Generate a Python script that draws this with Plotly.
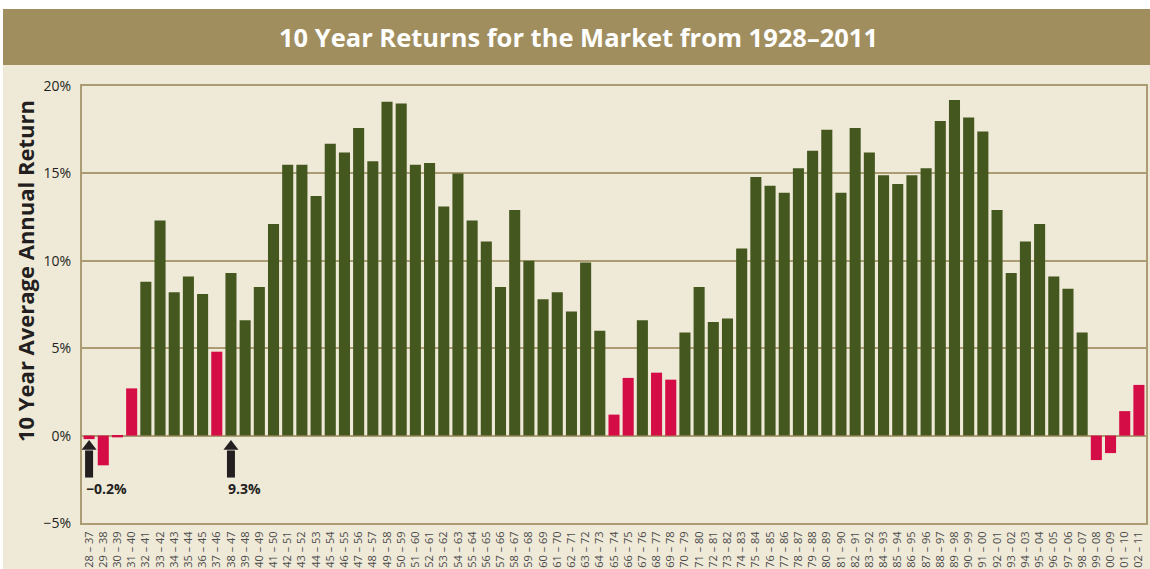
import plotly.graph_objects as go

periods = [
    "28 – 37", "29 – 38", "30 – 39", "31 – 40", "32 – 41", "33 – 42", "34 – 43", "35 – 44",
    "36 – 45", "37 – 46", "38 – 47", "39 – 48", "40 – 49", "41 – 50", "42 – 51", "43 – 52",
    "44 – 53", "45 – 54", "46 – 55", "47 – 56", "48 – 57", "49 – 58", "50 – 59", "51 – 60",
    "52 – 61", "53 – 62", "54 – 63", "55 – 64", "56 – 65", "57 – 66", "58 – 67", "59 – 68",
    "60 – 69", "61 – 70", "62 – 71", "63 – 72", "64 – 73", "65 – 74", "66 – 75", "67 – 76",
    "68 – 77", "69 – 78", "70 – 79", "71 – 80", "72 – 81", "73 – 82", "74 – 83", "75 – 84",
    "76 – 85", "77 – 86", "78 – 87", "79 – 88", "80 – 89", "81 – 90", "82 – 91", "83 – 92",
    "84 – 93", "85 – 94", "86 – 95", "87 – 96", "88 – 97", "89 – 98", "90 – 99", "91 – 00",
    "92 – 01", "93 – 02", "94 – 03", "95 – 04", "96 – 05", "97 – 06", "98 – 07", "99 – 08",
    "00 – 09", "01 – 10", "02 – 11",
]

returns = [
    -0.2, -1.7, -0.1, 2.7, 8.8, 12.3, 8.2, 9.1,
    8.1, 4.8, 9.3, 6.6, 8.5, 12.1, 15.5, 15.5,
    13.7, 16.7, 16.2, 17.6, 15.7, 19.1, 19.0, 15.5,
    15.6, 13.1, 15.0, 12.3, 11.1, 8.5, 12.9, 10.0,
    7.8, 8.2, 7.1, 9.9, 6.0, 1.2, 3.3, 6.6,
    3.6, 3.2, 5.9, 8.5, 6.5, 6.7, 10.7, 14.8,
    14.3, 13.9, 15.3, 16.3, 17.5, 13.9, 17.6, 16.2,
    14.9, 14.4, 14.9, 15.3, 18.0, 19.2, 18.2, 17.4,
    12.9, 9.3, 11.1, 12.1, 9.1, 8.4, 5.9, -1.4,
    -1.0, 1.4, 2.9,
]

highlighted = ["28 – 37", "38 – 47"]

y_tickvals = [-5, 0, 5, 10, 15, 20]
y_ticktext = ["−5%", "0%", "5%", "10%", "15%", "20%"]

title_text = "10 Year Returns for the Market from 1928–2011"
y_title = "10 Year Average Annual Return"

GREEN = "#44571F"
RED = "#D40D46"
BANNER = "#A08E5F"
CREAM = "#EFE9D8"
GRID = "#AC9C73"
DARK = "#231F20"

bar_colors = [RED if v < 5 else GREEN for v in returns]

fig = go.Figure()
fig.add_trace(go.Bar(
    x=periods, y=returns, marker=dict(color=bar_colors, line=dict(width=0)),
    hoverinfo="x+y", showlegend=False,
))

# arrow heads
fig.add_trace(go.Scatter(
    x=highlighted, y=[-0.62] * len(highlighted), mode="markers",
    marker=dict(symbol="triangle-up", size=13, color=DARK, line=dict(width=0)),
    hoverinfo="skip", showlegend=False,
))

shapes = [
    # cream background below banner
    dict(type="rect", xref="paper", yref="paper",
         x0=(3 - 82) / 1064, x1=1.01, y0=-0.2, y1=(523 - 65) / 437,
         fillcolor=CREAM, line=dict(width=0), layer="below"),
    # banner
    dict(type="rect", xref="paper", yref="paper",
         x0=(3 - 82) / 1064, x1=1.01, y0=(523 - 65) / 437, y1=(523 - 9) / 437,
         fillcolor=BANNER, line=dict(width=0), layer="below"),
]
for p in highlighted:
    shapes.append(dict(type="line", xref="x", yref="y", x0=p, x1=p, y0=-0.85, y1=-2.4,
                       line=dict(color=DARK, width=8)))

annotations = [
    dict(text=title_text, xref="paper", yref="paper", x=(578 - 82) / 1064, y=(523 - 37) / 437,
         xanchor="center", yanchor="middle", showarrow=False,
         font=dict(family="Open Sans", size=25.5, color="white", weight="bold")),
    dict(text=y_title, xref="paper", yref="paper", x=(25 - 82) / 1064, y=(523 - 271) / 437,
         xanchor="center", yanchor="middle", showarrow=False, textangle=-90,
         font=dict(family="Open Sans", size=22, color=DARK, weight="bold")),
]
for p in highlighted:
    v = returns[periods.index(p)]
    annotations.append(dict(
        text=f"{v:.1f}%".replace("-", "−"), xref="x", yref="y", x=p, y=-3.0,
        xanchor="left", yanchor="middle", xshift=-5, showarrow=False,
        font=dict(family="Open Sans", size=14, color=DARK, weight="bold"),
    ))

fig.update_layout(
    width=1150, height=569,
    margin=dict(l=82, r=4, t=86, b=46, pad=0, autoexpand=False),
    paper_bgcolor="white",
    plot_bgcolor=CREAM,
    bargap=0.22,
    shapes=shapes,
    annotations=annotations,
    font=dict(family="Open Sans", color=DARK),
)
fig.update_xaxes(
    type="category", tickangle=-90, showgrid=False, ticks="",
    tickmode="array", tickvals=periods, ticktext=periods,
    range=[-0.5, len(periods) - 0.5], automargin=False,
    tickfont=dict(family="Open Sans", size=11, color="#4A4A4A"),
    showline=True, linecolor=GRID, linewidth=2, mirror=True,
    ticklabelstandoff=2,
)
fig.update_yaxes(
    range=[-5, 20], tickvals=y_tickvals, ticktext=y_ticktext, automargin=False,
    tickfont=dict(family="Open Sans", size=14, color=DARK),
    showgrid=True, gridcolor=GRID, gridwidth=1.5,
    zeroline=True, zerolinecolor=GRID, zerolinewidth=2,
    showline=True, linecolor=GRID, linewidth=2, mirror=True,
    ticks="", ticklabelstandoff=6,
)

fig.write_html("out.html")
